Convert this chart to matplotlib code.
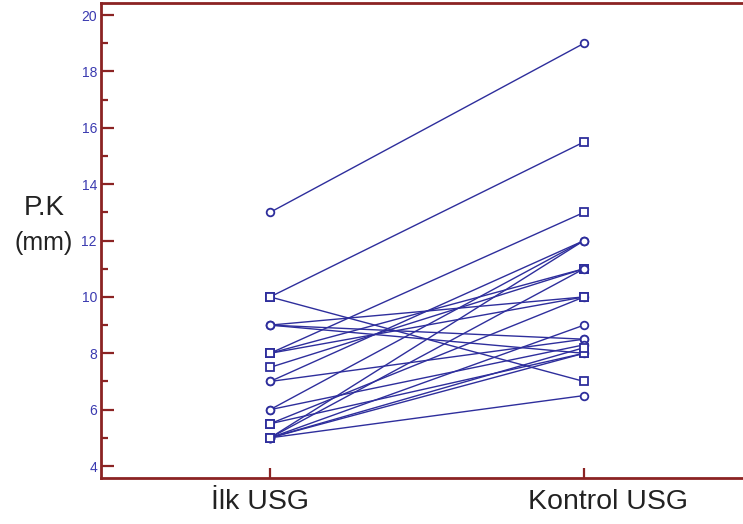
import matplotlib
matplotlib.use("Agg")
import matplotlib.pyplot as plt
from matplotlib.ticker import MultipleLocator
from matplotlib.transforms import ScaledTranslation, blended_transform_factory

# Paired measurements: first ultrasound vs. follow-up ultrasound
categories = ["İlk USG", "Kontrol USG"]
ilk_usg = [13, 10, 10, 9, 9, 9, 8, 8, 8, 7.5, 7, 7, 6, 6, 5.5, 5.5, 5, 5, 5, 5, 5, 5]
kontrol_usg = [19, 15.5, 7, 8.5, 10, 8, 13, 11, 10, 11, 8.5, 12, 12, 8.3, 10, 8, 12, 11, 9, 8, 6.5, 8.2]
group = ["o", "s", "s", "o", "o", "o", "s", "s", "s", "s", "o", "o",
         "o", "o", "s", "s", "o", "o", "o", "s", "o", "s"]

line_color = "#2e2e9c"
axis_color = "#8b2323"
label_color = "#3a3ab0"
text_color = "#222222"

plt.rcParams["font.family"] = ["Liberation Sans", "DejaVu Sans"]

fig = plt.figure(figsize=(7.43, 5.24), dpi=100)
ax = fig.add_axes([0.136, 0.0878, 0.87, 0.9065])

xpos = [1, 2]
for a, b, m in zip(ilk_usg, kontrol_usg, group):
    ax.plot(xpos, [a, b], color=line_color, lw=1.0, marker=m, ms=5.5,
            mfc="white", mec=line_color, mew=1.3, zorder=3)

ax.set_xlim(0.4618, 2.5204)
ax.set_ylim(3.575, 20.43)

ax.yaxis.set_major_locator(MultipleLocator(2))
ax.yaxis.set_minor_locator(MultipleLocator(1))
ax.set_xticks(xpos)
ax.set_xticklabels([])

# category labels below the axis, nudged sideways
base = blended_transform_factory(ax.transData, ax.transAxes)
for x, name, dx in zip(xpos, categories, [-10, 24]):
    ax.text(x, 0, name, ha="center", va="top", fontsize=20.5, color=text_color,
            transform=base + ScaledTranslation(dx / 100, -11 / 100, fig.dpi_scale_trans),
            clip_on=False)

ax.tick_params(axis="y", which="major", direction="in", length=9.5, width=1.6,
               color=axis_color, labelsize=10, labelcolor=label_color, pad=3)
ax.tick_params(axis="y", which="minor", direction="in", length=5, width=1.6,
               color=axis_color)
ax.tick_params(axis="x", which="major", direction="in", length=7.5, width=1.6,
               color=axis_color)

for side in ["left", "bottom", "top"]:
    ax.spines[side].set_color(axis_color)
    ax.spines[side].set_linewidth(2.0)
ax.spines["right"].set_visible(False)

fig.text(44 / 743, 1 - 208 / 524, "P.K", ha="center", va="center",
         fontsize=20, color=text_color)
fig.text(44 / 743, 1 - 243 / 524, "(mm)", ha="center", va="center",
         fontsize=18, color=text_color)

fig.savefig("out.png", dpi=100)
